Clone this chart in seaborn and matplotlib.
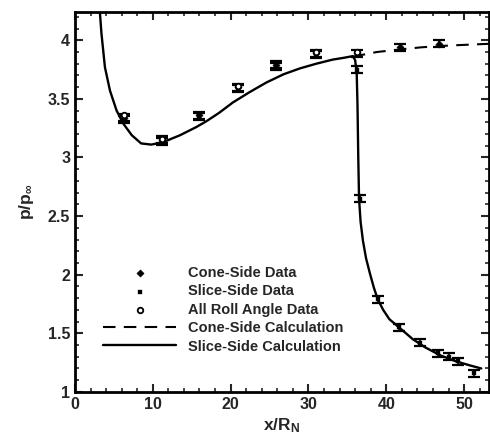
import matplotlib
matplotlib.use("Agg")
import matplotlib.pyplot as plt
import seaborn as sns
from matplotlib.ticker import MultipleLocator, FuncFormatter

# measured data (x/R_N, p/p_inf)
cone_x = [6.3, 11.2, 16.0, 21.0, 25.8, 31.0, 36.2, 41.8, 46.8]
cone_y = [3.34, 3.15, 3.36, 3.60, 3.79, 3.89, 3.89, 3.94, 3.97]
slice_x = [6.3, 11.2, 16.0, 21.0, 25.8, 31.0, 36.2, 36.6, 38.9, 41.6, 44.3, 46.6, 48.0, 49.2, 51.3]
slice_y = [3.32, 3.14, 3.35, 3.59, 3.78, 3.88, 3.75, 2.65, 1.79, 1.55, 1.42, 1.33, 1.30, 1.26, 1.16]
roll_x = [6.3, 11.2, 21.0, 31.0, 36.2]
roll_y = [3.36, 3.16, 3.61, 3.90, 3.90]

# calculations
cone_calc_x = [35.7, 38.8, 41.5, 44.5, 48.0, 53.2]
cone_calc_y = [3.86, 3.90, 3.92, 3.94, 3.955, 3.97]
slice_calc_x = [3.1, 3.2, 3.4, 3.85, 4.5, 5.35, 6.2, 7.3, 8.5, 9.8, 11.3, 13.5, 15.6, 16.9,
                18.5, 20.3, 22.5, 24.6, 26.8, 28.9, 31.0, 33.1, 34.5, 35.3, 35.7, 36.0,
                36.2, 36.3, 36.4, 36.5, 36.7, 37.0, 37.4, 37.9, 38.4, 38.9, 39.6, 40.4,
                42.0, 43.4, 45.0, 47.0, 49.0, 50.8, 52.2]
slice_calc_y = [4.30, 4.24, 4.06, 3.77, 3.57, 3.40, 3.29, 3.19, 3.12, 3.11, 3.13, 3.19, 3.26, 3.31,
                3.38, 3.47, 3.56, 3.64, 3.71, 3.76, 3.80, 3.835, 3.85, 3.86, 3.865, 3.83,
                3.72, 3.45, 3.00, 2.65, 2.45, 2.29, 2.14, 2.01, 1.89, 1.79, 1.70, 1.62,
                1.53, 1.45, 1.38, 1.31, 1.26, 1.225, 1.20]

data_err = 0.03

sns.set_style("ticks")
plt.rcParams["font.family"] = ["Liberation Sans", "DejaVu Sans"]
plt.rcParams["font.weight"] = "bold"
plt.rcParams["mathtext.fontset"] = "custom"
plt.rcParams["mathtext.bf"] = "Liberation Sans:bold"
plt.rcParams["mathtext.rm"] = "Liberation Sans:bold"

fig = plt.figure(figsize=(4.9, 4.34), dpi=100)
ax = fig.add_axes([0.153, 0.097, 0.845, 0.875])

sns.lineplot(x=cone_calc_x, y=cone_calc_y, ax=ax, color="black", lw=1.5,
             linestyle=(0, (6, 4)), sort=False, estimator=None, label="Cone-Side Calculation")
sns.lineplot(x=slice_calc_x, y=slice_calc_y, ax=ax, color="black", lw=1.7,
             sort=False, estimator=None, label="Slice-Side Calculation")

for xs, ys in [(cone_x, cone_y), (slice_x, slice_y)]:
    ax.errorbar(xs, ys, yerr=data_err, fmt="none", ecolor="black", elinewidth=1.2,
                capsize=4, capthick=1.6)

sns.scatterplot(x=cone_x, y=cone_y, ax=ax, marker="D", s=14, color="black",
                edgecolor="black", label="Cone-Side Data", zorder=5)
sns.scatterplot(x=slice_x, y=slice_y, ax=ax, marker="s", s=10, color="black",
                edgecolor="black", label="Slice-Side Data", zorder=5)
sns.scatterplot(x=roll_x, y=roll_y, ax=ax, marker="o", s=16, facecolor="white",
                edgecolor="black", linewidth=1.3, label="All Roll Angle Data", zorder=5)

ax.set_xlim(0, 53.2)
ax.set_ylim(1, 4.24)
ax.xaxis.set_major_locator(MultipleLocator(10))
ax.xaxis.set_minor_locator(MultipleLocator(2))
ax.yaxis.set_major_locator(MultipleLocator(0.5))
ax.yaxis.set_minor_locator(MultipleLocator(0.1))
ax.yaxis.set_major_formatter(FuncFormatter(lambda v, p: f"{v:g}"))
ax.xaxis.set_major_formatter(FuncFormatter(lambda v, p: f"{v:g}"))
ax.tick_params(which="both", direction="in", top=True, right=True, labelsize=11.5)
ax.tick_params(which="major", length=6, width=1.5)
ax.tick_params(which="minor", length=3, width=1.2)
for sp in ax.spines.values():
    sp.set_linewidth(2)
    sp.set_color("black")
for lab in ax.get_xticklabels() + ax.get_yticklabels():
    lab.set_fontweight("bold")

ax.set_xlabel(r"$\mathbf{x/R_N}$", fontsize=12.5, labelpad=3)
ax.set_ylabel(r"$\mathbf{p/p_\infty}$", fontsize=12.5, labelpad=8)

handles, labels = ax.get_legend_handles_labels()
order = ["Cone-Side Data", "Slice-Side Data", "All Roll Angle Data",
         "Cone-Side Calculation", "Slice-Side Calculation"]
hmap = dict(zip(labels, handles))
ax.legend([hmap[k] for k in order], order, loc="upper left", bbox_to_anchor=(0.04, 0.362),
          frameon=False, handlelength=5.0, handletextpad=0.8, labelspacing=0.3,
          borderpad=0.3, prop={"weight": "bold", "size": 10.5})

fig.savefig("out.png", dpi=100)
